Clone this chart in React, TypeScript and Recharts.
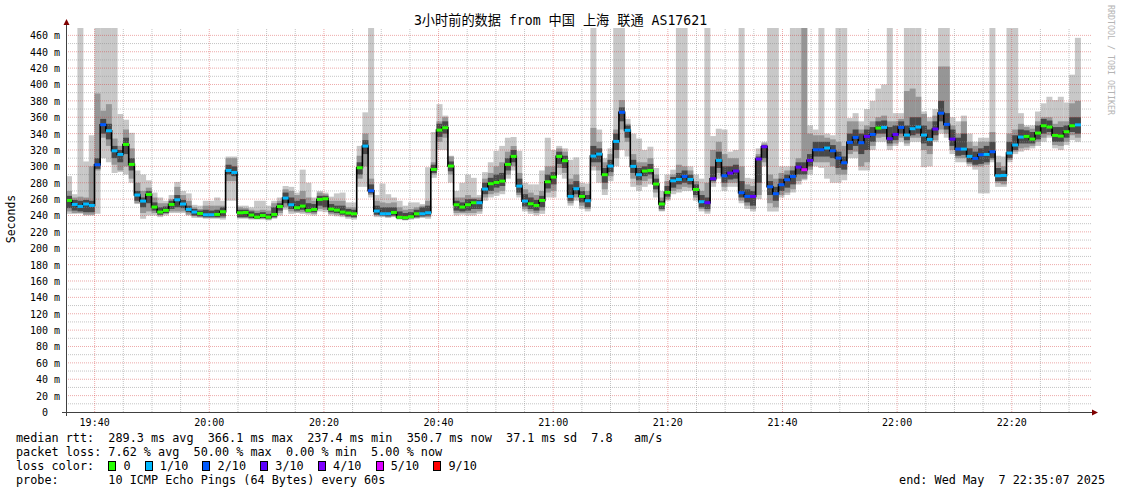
import { Bar, ComposedChart, Line, ReferenceLine, XAxis, YAxis } from 'recharts'

const MONO = "'DejaVu Sans Mono', 'Noto Sans CJK SC', monospace"

// x positions are minutes after 19:35
const timeTicks = [5, 25, 45, 65, 85, 105, 125, 145, 165]
const timeLabels = ['19:40', '20:00', '20:20', '20:40', '21:00', '21:20', '21:40', '22:00', '22:20']
const yTicks = [0, 20, 40, 60, 80, 100, 120, 140, 160, 180, 200, 220, 240, 260, 280, 300, 320, 340, 360, 380, 400, 420, 440, 460]

const lossLabels = ['0', '1/10', '2/10', '3/10', '4/10', '5/10', '9/10']
const lossColors = ['#26ff00', '#00b8ff', '#0059ff', '#5e00ff', '#7e00ff', '#dd00ff', '#ff0000']

// one value per minute, 19:35 .. 22:32 (ms)
const median = [
  258.4, 253.5, 251.1, 254.0, 252.3, 302.0, 350.9, 343.5, 319.0, 314.6,
  326.8, 302.4, 265.0, 257.6, 265.7, 250.3, 244.2, 246.2, 253.5, 259.2,
  254.0, 247.4, 244.2, 242.5, 240.9, 240.9, 241.3, 244.6, 295.0, 292.6,
  243.3, 243.7, 240.5, 238.0, 240.0, 238.0, 241.3, 251.0, 261.3, 253.1,
  249.5, 251.5, 246.2, 247.4, 259.6, 260.4, 247.8, 246.6, 244.2, 243.0,
  242.1, 298.3, 324.8, 270.2, 245.4, 242.1, 242.1, 243.7, 237.8, 237.4,
  238.5, 242.1, 242.1, 243.3, 296.3, 344.3, 347.2, 300.4, 253.1, 250.3,
  253.1, 255.6, 255.6, 272.3, 278.8, 280.4, 282.0, 302.4, 312.2, 275.9,
  257.6, 254.3, 252.3, 258.4, 281.2, 286.9, 312.2, 306.9, 263.3, 272.7,
  263.3, 258.0, 312.6, 315.0, 289.8, 300.4, 330.5, 366.1, 344.0, 300.0,
  289.8, 294.3, 295.0, 278.4, 254.0, 268.2, 282.4, 284.0, 287.7, 284.0,
  271.8, 256.8, 255.6, 284.9, 307.3, 288.5, 291.8, 294.3, 267.8, 263.3,
  263.3, 308.9, 324.0, 275.1, 266.6, 277.6, 283.7, 287.7, 299.1, 295.9,
  307.3, 320.3, 320.3, 322.4, 319.1, 310.1, 304.4, 329.3, 335.4, 328.9,
  336.6, 339.0, 346.8, 347.6, 333.8, 339.0, 347.6, 338.2, 346.0, 348.0,
  338.2, 332.9, 345.6, 365.0, 351.3, 333.3, 321.1, 321.1, 312.2, 309.7,
  314.2, 314.6, 317.9, 288.5, 288.9, 316.3, 326.1, 335.8, 336.6, 333.3,
  340.7, 349.6, 348.0, 337.8, 337.0, 342.3, 349.6, 350.7,
]

// lost pings out of 10
const loss = [
  0, 1, 1, 1, 1, 2, 2, 1, 1, 1,
  0, 0, 1, 1, 0, 0, 0, 0, 0, 1,
  1, 1, 1, 0, 1, 1, 0, 0, 1, 1,
  0, 0, 0, 0, 0, 0, 0, 0, 1, 1,
  0, 0, 0, 0, 0, 0, 0, 0, 0, 0,
  0, 0, 1, 2, 1, 1, 1, 0, 0, 0,
  0, 0, 1, 1, 0, 0, 0, 0, 0, 0,
  0, 0, 1, 1, 0, 0, 0, 0, 0, 1,
  1, 0, 0, 0, 0, 0, 0, 0, 1, 1,
  0, 1, 1, 1, 0, 1, 1, 2, 1, 1,
  1, 0, 0, 0, 0, 0, 1, 1, 2, 1,
  0, 1, 3, 3, 1, 2, 3, 3, 2, 2,
  3, 3, 3, 2, 2, 2, 2, 2, 3, 5,
  3, 2, 2, 1, 2, 2, 2, 2, 2, 2,
  3, 2, 0, 1, 3, 3, 2, 1, 1, 1,
  1, 1, 3, 2, 2, 3, 2, 1, 1, 2,
  2, 1, 2, 1, 1, 1, 1, 1, 0, 0,
  0, 0, 0, 0, 0, 0, 0, 1,
]

// smoke: outer range of the pings (469 = off the top)
const lightLo = [
  242, 242, 242, 240, 240, 242, 310, 305, 292, 293,
  290, 280, 254, 236, 240, 240, 238, 240, 243, 243,
  243, 240, 237, 237, 236, 236, 236, 235, 258, 258,
  236, 236, 235, 235, 235, 234, 236, 240, 247, 242,
  243, 242, 241, 240, 245, 244, 240, 239, 238, 236,
  235, 275, 275, 262, 238, 238, 237, 238, 235, 234,
  235, 236, 237, 236, 286, 320, 320, 280, 240, 241,
  240, 240, 242, 258, 262, 264, 266, 285, 295, 262,
  245, 242, 240, 242, 262, 262, 290, 285, 252, 258,
  248, 245, 295, 280, 265, 282, 300, 320, 312, 275,
  270, 275, 278, 262, 245, 258, 266, 268, 270, 270,
  258, 245, 242, 275, 285, 270, 275, 275, 255, 248,
  245, 260, 300, 245, 245, 262, 265, 268, 278, 283,
  290, 300, 298, 285, 280, 280, 283, 310, 310, 295,
  295, 320, 330, 330, 320, 325, 330, 325, 330, 330,
  299, 300, 330, 340, 335, 315, 305, 305, 300, 296,
  267, 267, 305, 275, 275, 305, 315, 318, 320, 322,
  325, 330, 335, 322, 320, 326, 332, 330,
]
const lightHi = [
  288, 266, 469, 306, 338, 469, 469, 469, 469, 364,
  357, 341, 295, 290, 283, 268, 262, 258, 265, 281,
  270, 267, 253, 252, 258, 258, 262, 258, 312, 312,
  252, 252, 250, 258, 258, 252, 258, 262, 276, 275,
  268, 296, 280, 262, 270, 268, 263, 267, 268, 256,
  256, 325, 366, 469, 265, 279, 266, 262, 258, 252,
  256, 256, 254, 299, 342, 376, 362, 313, 270, 280,
  290, 286, 265, 293, 305, 319, 325, 335, 336, 319,
  280, 278, 278, 295, 335, 320, 325, 322, 308, 311,
  280, 279, 469, 345, 310, 322, 469, 469, 358, 340,
  334, 320, 324, 298, 270, 290, 296, 469, 469, 300,
  290, 285, 469, 337, 346, 345, 318, 320, 469, 286,
  285, 322, 330, 469, 469, 300, 300, 469, 469, 469,
  350, 345, 469, 340, 338, 469, 469, 359, 365, 355,
  370, 380, 395, 400, 469, 365, 365, 469, 469, 469,
  367, 360, 370, 469, 469, 360, 355, 362, 340, 330,
  335, 335, 469, 313, 312, 469, 469, 365, 350, 350,
  367, 377, 385, 381, 385, 378, 412, 457,
]
const midLo = [
  245, 243, 243, 241, 241, 295, 335, 325, 302, 295,
  300, 285, 255, 243, 245, 243, 240, 242, 245, 245,
  245, 241, 239, 238, 237, 237, 237, 237, 282, 282,
  237, 237, 236, 236, 236, 235, 237, 243, 250, 245,
  244, 244, 243, 242, 248, 247, 242, 241, 240, 238,
  237, 285, 300, 265, 240, 239, 238, 239, 236, 235,
  236, 237, 238, 238, 290, 330, 335, 290, 243, 243,
  243, 243, 245, 262, 266, 268, 270, 290, 300, 265,
  248, 245, 243, 246, 268, 270, 298, 292, 255, 262,
  252, 248, 300, 295, 272, 288, 310, 345, 330, 285,
  277, 282, 285, 268, 246, 260, 270, 272, 275, 274,
  262, 248, 245, 280, 292, 275, 280, 280, 258, 252,
  248, 265, 305, 255, 250, 265, 268, 272, 282, 285,
  296, 305, 305, 305, 300, 290, 290, 315, 318, 300,
  305, 325, 335, 336, 325, 328, 335, 328, 335, 335,
  320, 315, 332, 345, 340, 320, 310, 310, 303, 300,
  300, 302, 308, 280, 278, 308, 318, 322, 323, 325,
  330, 335, 338, 326, 325, 330, 338, 335,
]
const midHi = [
  270, 262, 263, 262, 300, 389, 368, 376, 334, 325,
  345, 322, 280, 270, 274, 262, 255, 255, 260, 275,
  265, 258, 250, 248, 252, 252, 252, 252, 310, 310,
  250, 249, 247, 246, 247, 246, 255, 258, 272, 270,
  265, 270, 262, 258, 268, 266, 258, 258, 258, 250,
  250, 313, 340, 285, 258, 256, 255, 256, 250, 247,
  248, 250, 252, 258, 305, 355, 360, 312, 262, 262,
  265, 262, 262, 285, 292, 300, 305, 318, 325, 292,
  272, 268, 265, 270, 300, 300, 322, 318, 285, 290,
  275, 270, 347, 330, 305, 315, 345, 381, 352, 315,
  305, 305, 310, 290, 262, 282, 290, 302, 300, 295,
  282, 270, 280, 320, 330, 315, 310, 310, 300, 278,
  276, 315, 328, 290, 285, 292, 295, 300, 310, 469,
  340, 338, 338, 335, 333, 330, 325, 355, 355, 345,
  350, 355, 360, 362, 355, 355, 358, 392, 395, 385,
  364, 355, 362, 422, 422, 350, 340, 355, 330, 325,
  330, 330, 342, 305, 300, 340, 345, 352, 348, 346,
  355, 360, 360, 352, 355, 355, 377, 380,
]
const darkLo = [
  249, 246, 245, 244, 244, 297, 340, 333, 310, 305,
  315, 295, 258, 250, 255, 246, 241, 243, 248, 250,
  249, 244, 240, 239, 238, 238, 238, 239, 290, 288,
  238, 238, 237, 236, 237, 236, 238, 246, 255, 248,
  246, 247, 244, 244, 252, 250, 244, 243, 241, 239,
  238, 290, 315, 267, 241, 240, 239, 240, 236, 235,
  237, 238, 239, 240, 292, 336, 340, 294, 246, 245,
  246, 248, 248, 266, 270, 274, 276, 295, 305, 268,
  251, 248, 246, 250, 273, 278, 303, 298, 258, 266,
  256, 250, 305, 305, 280, 293, 320, 355, 335, 292,
  283, 288, 290, 272, 248, 263, 274, 278, 280, 278,
  265, 250, 248, 282, 298, 280, 284, 285, 262, 256,
  252, 280, 310, 265, 258, 270, 274, 278, 290, 290,
  300, 312, 312, 312, 310, 298, 296, 320, 325, 315,
  320, 330, 340, 340, 328, 332, 340, 332, 338, 340,
  328, 325, 338, 355, 345, 325, 313, 314, 305, 302,
  303, 305, 310, 282, 282, 310, 320, 328, 328, 328,
  333, 340, 342, 330, 330, 335, 342, 340,
]
const darkHi = [
  264, 259, 258, 259, 258, 310, 358, 352, 325, 320,
  335, 310, 270, 262, 270, 256, 250, 251, 258, 265,
  259, 252, 248, 246, 247, 246, 247, 250, 302, 300,
  247, 247, 245, 243, 244, 242, 250, 255, 268, 262,
  258, 260, 255, 254, 264, 264, 254, 252, 252, 248,
  247, 305, 332, 278, 252, 250, 250, 250, 245, 243,
  244, 247, 250, 252, 302, 352, 355, 306, 258, 256,
  260, 260, 259, 280, 286, 290, 292, 310, 320, 285,
  266, 262, 259, 264, 290, 293, 318, 313, 278, 282,
  270, 265, 325, 322, 298, 308, 340, 372, 350, 308,
  298, 300, 303, 285, 258, 276, 287, 292, 295, 290,
  278, 265, 262, 300, 318, 300, 300, 302, 282, 272,
  270, 312, 326, 282, 275, 285, 290, 295, 305, 305,
  315, 330, 330, 330, 326, 318, 312, 340, 345, 340,
  345, 348, 355, 356, 348, 350, 355, 350, 360, 360,
  350, 345, 355, 380, 365, 345, 335, 340, 322, 318,
  322, 325, 330, 298, 295, 330, 338, 345, 344, 342,
  350, 358, 356, 348, 348, 350, 360, 360,
]

const summaryLines = [
  'median rtt:  289.3 ms avg  366.1 ms max  237.4 ms min  350.7 ms now  37.1 ms sd  7.8   am/s',
  'packet loss: 7.62 % avg  50.00 % max  0.00 % min  5.00 % now',
]
const probeLine = 'probe:       10 ICMP Echo Pings (64 Bytes) every 60s'
const endLine = 'end: Wed May  7 22:35:07 2025'
const title = '3小时前的数据 from 中国 上海 联通 AS17621'

// 180 one-minute slots across the 3h window, the last two have no data yet
const rows = Array.from({ length: 180 }, (_, i) => ({
  slot: i,
  med: median[i] ?? null,
  loss: loss[i] ?? 0,
  light: lightLo[i] != null ? [lightLo[i], lightHi[i]] : null,
  mid: midLo[i] != null ? [midLo[i], midHi[i]] : null,
  dark: darkLo[i] != null ? [darkLo[i], darkHi[i]] : null,
}))

const lossColor = (n: number) => (n >= 9 ? lossColors[6] : lossColors[Math.min(n, 5)])

const gridMinutes = Array.from({ length: 36 }, (_, i) => (i + 1) * 5)
const majorMinutes = gridMinutes.filter((m) => (m - 5) % 20 === 0)
const minorMinutes = gridMinutes.filter((m) => (m - 5) % 20 !== 0)
const majorY = yTicks.filter((v) => v > 0)
const minorY = yTicks.map((v) => v + 10).filter((v) => v < 469)

const SLOT_W = 1026 / 180

function YTick(props: any) {
  const { y, payload } = props
  const v = payload.value
  return (
    <text x={v === 0 ? 48 : 60} y={y + 4} textAnchor='end' fontFamily={MONO} fontSize={10} fill='#000'>
      {v === 0 ? '0' : `${v} m`}
    </text>
  )
}

// coloured median tick drawn over the black step line
function MedianDot(props: any) {
  const { cx, cy, payload } = props
  if (cx == null || cy == null || payload?.med == null) return null
  return (
    <rect
      key={`m${payload.slot}`}
      x={cx - SLOT_W / 2}
      y={cy - 1.5}
      width={SLOT_W + 0.3}
      height={3}
      fill={lossColor(payload.loss)}
    />
  )
}

function SmokeChart() {
  return (
    <ComposedChart
      width={1121}
      height={494}
      data={rows}
      margin={{ top: 28, right: 29, bottom: 62, left: 0 }}
      barCategoryGap={0}
      barGap={0}
    >
      <XAxis
        xAxisId='time'
        type='number'
        domain={[0, 180]}
        ticks={timeTicks}
        interval={0}
        tickFormatter={(v) => timeLabels[timeTicks.indexOf(v)] ?? ''}
        axisLine={false}
        tickLine={false}
        tickSize={7}
        tickMargin={0}
        height={20}
        tick={{ fontFamily: MONO, fontSize: 10, fill: '#000' }}
      />
      <XAxis xAxisId='light' dataKey='slot' hide height={0} />
      <XAxis xAxisId='mid' dataKey='slot' hide height={0} />
      <XAxis xAxisId='dark' dataKey='slot' hide height={0} />
      <XAxis xAxisId='med' dataKey='slot' hide height={0} />
      <YAxis
        width={66}
        domain={[0, 469]}
        ticks={yTicks}
        interval={0}
        allowDataOverflow
        axisLine={false}
        tickLine={false}
        tick={<YTick />}
      />
      <Bar xAxisId='light' dataKey='light' fill='#c8c8c8' isAnimationActive={false} />
      <Bar xAxisId='mid' dataKey='mid' fill='#969696' isAnimationActive={false} />
      <Bar xAxisId='dark' dataKey='dark' fill='#484848' isAnimationActive={false} />
      {minorY.map((v) => (
        <ReferenceLine key={`hy${v}`} y={v} stroke='#8c8c8c' strokeOpacity={0.5} strokeDasharray='1 1' />
      ))}
      {majorY.map((v) => (
        <ReferenceLine key={`HY${v}`} y={v} stroke='#d02020' strokeOpacity={0.38} strokeDasharray='1 1' />
      ))}
      {minorMinutes.map((m) => (
        <ReferenceLine key={`vx${m}`} xAxisId='time' x={m} stroke='#8c8c8c' strokeOpacity={0.5} strokeDasharray='1 1' />
      ))}
      {majorMinutes.map((m) => (
        <ReferenceLine key={`VX${m}`} xAxisId='time' x={m} stroke='#d02020' strokeOpacity={0.38} strokeDasharray='1 1' />
      ))}
      <Line
        xAxisId='med'
        dataKey='med'
        type='step'
        stroke='#000'
        strokeWidth={1.6}
        dot={<MedianDot />}
        activeDot={false}
        isAnimationActive={false}
      />
    </ComposedChart>
  )
}

export default function App() {
  const line = (top: number) => ({
    position: 'absolute' as const,
    left: 16,
    top,
    fontFamily: MONO,
    fontSize: 11.8,
    lineHeight: '14px',
    whiteSpace: 'pre' as const,
    color: '#000',
  })
  return (
    <div style={{ position: 'absolute', left: 0, top: 0, width: 1121, height: 494, background: '#fff', overflow: 'hidden' }}>
      <SmokeChart />
      <svg width={1121} height={494} style={{ position: 'absolute', left: 0, top: 0, pointerEvents: 'none' }}>
        <line x1={66.5} y1={23} x2={66.5} y2={416} stroke='#404040' strokeWidth={1} />
        <line x1={62} y1={412.5} x2={1094} y2={412.5} stroke='#404040' strokeWidth={1} />
        <polygon points='66.5,19 63.5,25 69.5,25' fill='#7f0000' />
        <polygon points='1098,412.5 1092,409.5 1092,415.5' fill='#7f0000' />
      </svg>
      <div
        style={{
          position: 'absolute', left: 0, top: 13, width: 1121, textAlign: 'center',
          fontFamily: MONO, fontSize: 13.2, lineHeight: '16px', whiteSpace: 'pre', color: '#000',
        }}
      >
        {title}
      </div>
      <div
        style={{
          position: 'absolute', left: 11, top: 219, transform: 'translate(-50%, -50%) rotate(-90deg)',
          fontFamily: MONO, fontSize: 11.5, whiteSpace: 'nowrap', color: '#000',
        }}
      >
        Seconds
      </div>
      <div
        style={{
          position: 'absolute', left: 1111, top: 60, transform: 'translate(-50%, -50%) rotate(90deg)',
          fontFamily: MONO, fontSize: 8.3, whiteSpace: 'nowrap', color: '#b4b4b4',
        }}
      >
        RRDTOOL / TOBI OETIKER
      </div>
      <div style={line(431)}>{summaryLines[0]}</div>
      <div style={line(445)}>{summaryLines[1]}</div>
      <div style={line(459)}>
        {'loss color:  '}
        {lossLabels.map((l, i) => (
          <span key={l}>
            <span
              style={{
                display: 'inline-block', width: 8, height: 10, boxSizing: 'border-box',
                border: '1px solid #000', background: lossColors[i], verticalAlign: '-1px',
              }}
            />
            {` ${l}${i < lossLabels.length - 1 ? '  ' : ''}`}
          </span>
        ))}
      </div>
      <div style={line(473)}>{probeLine}</div>
      <div style={{ ...line(473), left: undefined, right: 16 }}>{endLine}</div>
    </div>
  )
}
